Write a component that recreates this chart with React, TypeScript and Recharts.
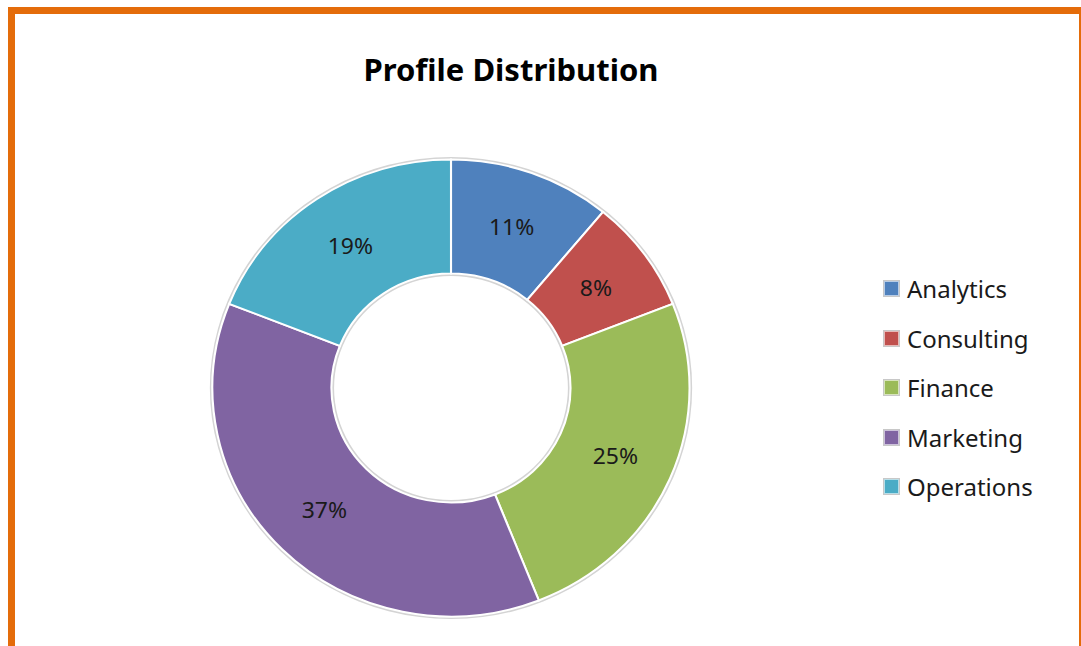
import { Pie, PieChart, Cell } from "recharts";

const categories = ["Analytics", "Consulting", "Finance", "Marketing", "Operations"];
const shares = [11, 8, 25, 37, 19];
const colors = ["#4F81BD", "#C0504D", "#9BBB59", "#8064A2", "#4BACC6"];

const data = categories.map((name, i) => ({ name, value: shares[i] }));
const ring = [{ name: "ring", value: 1 }];

const RADIAN = Math.PI / 180;
const FONT = "'Noto Sans', sans-serif";

const renderLabel = (props: any) => {
  const { cx, cy, midAngle, innerRadius, outerRadius, value } = props;
  const r = (innerRadius + outerRadius) / 2;
  const x = cx + r * Math.cos(-midAngle * RADIAN);
  const y = cy + r * Math.sin(-midAngle * RADIAN);
  return (
    <text
      x={x}
      y={y}
      fill="#1a1a1a"
      textAnchor="middle"
      dominantBaseline="central"
      fontFamily={FONT}
      fontSize={22}
    >
      {value}%
    </text>
  );
};

const LegendBox = () => (
  <div style={{ position: "absolute", left: 884, top: 264, fontFamily: FONT }}>
    {categories.map((c, i) => (
      <div
        key={c}
        style={{ display: "flex", alignItems: "center", height: 49.5, fontSize: 24, color: "#1a1a1a" }}
      >
        <span
          style={{
            width: 13,
            height: 13,
            background: colors[i],
            border: "1px solid rgba(255,255,255,0.6)",
            boxShadow: "0 0 0 1px #c8c8c8",
            marginRight: 8,
          }}
        />
        {c}
      </div>
    ))}
  </div>
);

export default function App() {
  return (
    <div style={{ position: "absolute", left: 0, top: 0, width: 1081, height: 646, background: "#fff", overflow: "hidden" }}>
      <div style={{ position: "absolute", left: 8, top: 7, width: 1073, height: 7, background: "#E46C0A" }} />
      <div style={{ position: "absolute", left: 8, top: 7, width: 7, height: 639, background: "#E46C0A" }} />
      <div style={{ position: "absolute", left: 1079, top: 7, width: 2, height: 639, background: "#E46C0A" }} />
      <div
        style={{
          position: "absolute",
          left: 0,
          width: 1022,
          top: 48,
          textAlign: "center",
          fontFamily: FONT,
          fontWeight: 700,
          fontSize: 31,
          color: "#000",
        }}
      >
        Profile Distribution
      </div>
      <div
        style={{
          position: "absolute",
          left: 0,
          top: 0,
          transform: "scale(1.044, 1)",
          transformOrigin: "451px 388px",
        }}
      >
        <PieChart width={1081} height={646}>
          <Pie
            data={ring}
            dataKey="value"
            cx={446}
            cy={383}
            innerRadius={112}
            outerRadius={231}
            fill="#d4d4d4"
            stroke="none"
            isAnimationActive={false}
          />
          <Pie
            data={data}
            dataKey="value"
            nameKey="name"
            cx={446}
            cy={383}
            innerRadius={114.5}
            outerRadius={228.5}
            startAngle={90}
            endAngle={-270}
            stroke="#fff"
            strokeWidth={2}
            label={renderLabel}
            labelLine={false}
            isAnimationActive={false}
          >
            {data.map((d, i) => (
              <Cell key={d.name} fill={colors[i]} />
            ))}
          </Pie>
        </PieChart>
      </div>
      <LegendBox />
    </div>
  );
}
